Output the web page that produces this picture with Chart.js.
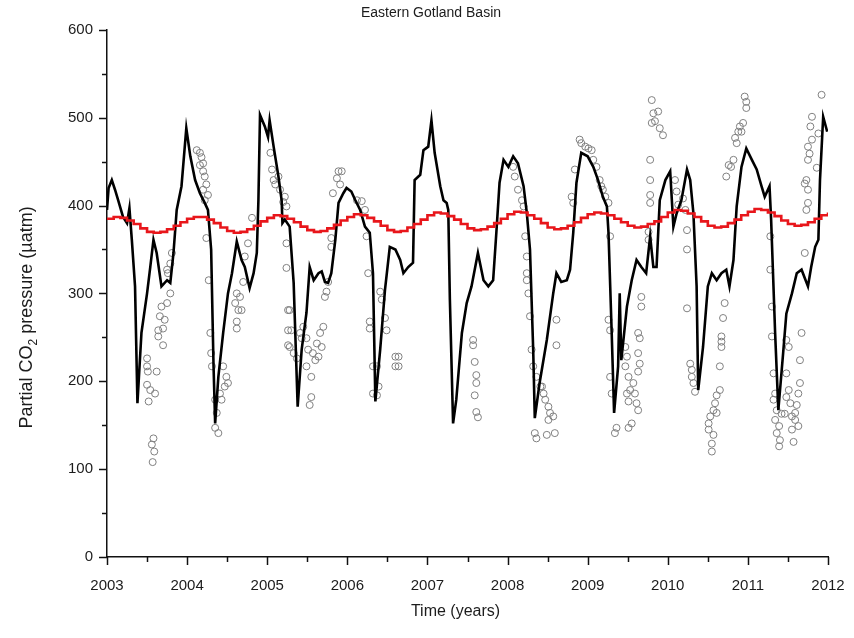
<!DOCTYPE html>
<html>
<head>
<meta charset="utf-8">
<script src="https://cdn.jsdelivr.net/npm/chart.js@4/dist/chart.umd.min.js"></script>
<style>
  html, body { margin: 0; padding: 0; background: #ffffff; }
  #wrap { width: 854px; height: 638px; }
</style>
</head>
<body>
<div id="wrap"><canvas id="c" width="854" height="638"></canvas></div>
<script>
// ---------- DATA ----------
const chartTitle = 'Eastern Gotland Basin';
const xTitle = 'Time (years)';
const yTitleParts = ['Partial CO', '2', ' pressure (\u00b5atm)'];

const yearTicks = [2003, 2004, 2005, 2006, 2007, 2008, 2009, 2010, 2011, 2012];
const valueTicks = [0, 100, 200, 300, 400, 500, 600];

// Modelled pCO2 (black line)
const lineYears = [
  2003.00, 2003.02, 2003.06, 2003.10, 2003.14, 2003.20, 2003.25, 2003.28, 2003.31, 2003.35,
  2003.38, 2003.43, 2003.50, 2003.54, 2003.58, 2003.62, 2003.68, 2003.75, 2003.79, 2003.83,
  2003.87, 2003.93, 2003.99, 2004.04, 2004.10, 2004.16, 2004.22, 2004.26, 2004.30, 2004.33,
  2004.35, 2004.39, 2004.45, 2004.51, 2004.56, 2004.62, 2004.68, 2004.72, 2004.78, 2004.83,
  2004.87, 2004.89, 2004.91, 2004.97, 2005.01, 2005.03, 2005.08, 2005.14, 2005.18, 2005.19,
  2005.22, 2005.28, 2005.33, 2005.38, 2005.43, 2005.49, 2005.53, 2005.58, 2005.64, 2005.68,
  2005.72, 2005.76, 2005.80, 2005.85, 2005.89, 2005.95, 2005.99, 2006.05, 2006.10, 2006.16,
  2006.22, 2006.28, 2006.32, 2006.35, 2006.41, 2006.47, 2006.53, 2006.60, 2006.66, 2006.70,
  2006.76, 2006.82, 2006.84, 2006.91, 2006.95, 2007.01, 2007.05, 2007.09, 2007.16, 2007.20,
  2007.24, 2007.26, 2007.28, 2007.32, 2007.36, 2007.43, 2007.49, 2007.55, 2007.63, 2007.70,
  2007.76, 2007.82, 2007.86, 2007.90, 2007.95, 2008.01, 2008.07, 2008.13, 2008.20, 2008.24,
  2008.28, 2008.32, 2008.34, 2008.40, 2008.49, 2008.57, 2008.61, 2008.67, 2008.74, 2008.78,
  2008.82, 2008.86, 2008.92, 2009.00, 2009.07, 2009.13, 2009.19, 2009.24, 2009.26, 2009.30,
  2009.33, 2009.38, 2009.40, 2009.42, 2009.49, 2009.55, 2009.61, 2009.67, 2009.73, 2009.78,
  2009.82, 2009.86, 2009.90, 2009.97, 2010.03, 2010.07, 2010.11, 2010.17, 2010.24, 2010.28,
  2010.32, 2010.36, 2010.38, 2010.44, 2010.50, 2010.55, 2010.61, 2010.67, 2010.73, 2010.77,
  2010.82, 2010.86, 2010.92, 2010.98, 2011.05, 2011.11, 2011.17, 2011.21, 2011.27, 2011.29,
  2011.34, 2011.38, 2011.44, 2011.48, 2011.55, 2011.61, 2011.67, 2011.75, 2011.79, 2011.84,
  2011.88, 2011.90, 2011.94, 2011.99
];
const lineValues = [
  395, 420, 429, 418, 406, 387, 380, 397, 361, 308,
  175, 255, 300, 330, 361, 346, 308, 315, 312, 346,
  395, 422, 488, 456, 429, 414, 403, 395, 350, 217,
  152, 205, 255, 300, 323, 359, 338, 330, 306, 323,
  346, 406, 503, 490, 478, 497, 467, 433, 406, 380,
  384, 376, 312, 171, 236, 278, 330, 315, 323, 325,
  313, 312, 323, 361, 403, 414, 420, 416, 406, 395,
  376, 369, 323, 177, 236, 304, 353, 350, 338, 323,
  330, 335, 429, 435, 463, 467, 497, 460, 422, 406,
  403, 395, 293, 152, 179, 255, 289, 308, 346, 315,
  308, 315, 369, 426, 452, 444, 456, 448, 422, 392,
  350, 236, 158, 198, 247, 300, 323, 313, 315, 327,
  369, 426, 460, 456, 444, 429, 410, 399, 369, 255,
  164, 217, 300, 224, 285, 315, 338, 330, 323, 365,
  330, 330, 406, 429, 439, 376, 391, 406, 441, 429,
  391, 308, 190, 239, 308, 323, 315, 323, 327, 308,
  338, 399, 444, 465, 452, 441, 422, 410, 422, 384,
  255, 167, 232, 277, 300, 323, 327, 308, 330, 353,
  361, 429, 501, 484
];

// Observations (open circles)
const obsYears = [
  2003.50, 2003.50, 2003.51, 2003.62, 2003.50, 2003.54, 2003.60, 2003.52, 2003.58, 2003.56,
  2003.59, 2003.57, 2003.64, 2003.70, 2003.64, 2003.70, 2003.66, 2003.68, 2003.75, 2003.72,
  2003.79, 2003.75, 2003.79, 2003.81, 2003.76,
  2004.12, 2004.16, 2004.18, 2004.20, 2004.16, 2004.20, 2004.22, 2004.24, 2004.20, 2004.26,
  2004.22, 2004.24, 2004.27, 2004.29, 2004.30, 2004.31, 2004.35, 2004.37, 2004.35, 2004.39,
  2004.45, 2004.49, 2004.51, 2004.47, 2004.41, 2004.43, 2004.62, 2004.66, 2004.60, 2004.64,
  2004.62, 2004.62, 2004.68, 2004.70, 2004.72, 2004.76, 2004.81,
  2005.04, 2005.06, 2005.08, 2005.10, 2005.14, 2005.16, 2005.22, 2005.20, 2005.24, 2005.24,
  2005.24, 2005.26, 2005.26, 2005.26, 2005.28, 2005.30, 2005.28, 2005.33, 2005.37, 2005.41,
  2005.45, 2005.43, 2005.49, 2005.51, 2005.49, 2005.55, 2005.57, 2005.60, 2005.64, 2005.62,
  2005.68, 2005.66, 2005.70, 2005.55, 2005.53, 2005.72, 2005.74, 2005.76, 2005.80, 2005.80,
  2005.82, 2005.87, 2005.89, 2005.93, 2005.91,
  2006.12, 2006.18, 2006.22, 2006.24, 2006.26, 2006.41, 2006.43, 2006.47, 2006.28, 2006.28,
  2006.49, 2006.32, 2006.37, 2006.39, 2006.32, 2006.37, 2006.60, 2006.64, 2006.60, 2006.64,
  2007.57, 2007.57, 2007.59, 2007.61, 2007.61, 2007.59, 2007.61, 2007.63,
  2008.07, 2008.09, 2008.13, 2008.18, 2008.20, 2008.22, 2008.24, 2008.24, 2008.24, 2008.26,
  2008.28, 2008.30, 2008.32, 2008.36, 2008.41, 2008.45, 2008.47, 2008.51, 2008.53, 2008.57,
  2008.51, 2008.34, 2008.49, 2008.59, 2008.36, 2008.43, 2008.61, 2008.61,
  2008.80, 2008.82, 2008.84, 2008.90, 2008.92, 2008.97, 2009.01, 2009.05, 2009.07, 2009.11,
  2009.15, 2009.17, 2009.19, 2009.22, 2009.26, 2009.28, 2009.26, 2009.28, 2009.28, 2009.30,
  2009.34, 2009.36, 2009.47, 2009.49, 2009.47, 2009.51, 2009.49, 2009.53, 2009.51, 2009.57,
  2009.59, 2009.61, 2009.63, 2009.55, 2009.51, 2009.63, 2009.65, 2009.63, 2009.65, 2009.67,
  2009.67, 2009.63,
  2009.80, 2009.82, 2009.88, 2009.84, 2009.80, 2009.90, 2009.94, 2009.78, 2009.78, 2009.78,
  2009.78, 2009.76, 2009.76, 2010.09, 2010.11, 2010.13, 2010.19, 2010.22, 2010.24, 2010.24,
  2010.24, 2010.28, 2010.30, 2010.30, 2010.32, 2010.34, 2010.71, 2010.69, 2010.67, 2010.67,
  2010.67, 2010.65, 2010.65, 2010.61, 2010.59, 2010.57, 2010.61, 2010.53, 2010.51, 2010.51,
  2010.57, 2010.55, 2010.55,
  2010.96, 2010.98, 2010.98, 2010.94, 2010.90, 2010.88, 2010.92, 2010.84, 2010.86, 2010.76,
  2010.79, 2010.73, 2010.82, 2011.28, 2011.28, 2011.30, 2011.30, 2011.32, 2011.34, 2011.32,
  2011.36, 2011.34, 2011.39, 2011.36, 2011.40, 2011.39, 2011.42, 2011.46, 2011.48, 2011.51,
  2011.53, 2011.55, 2011.55, 2011.57, 2011.59, 2011.61, 2011.63, 2011.65, 2011.63, 2011.59,
  2011.48, 2011.51, 2011.48, 2011.65, 2011.67, 2011.71, 2011.73, 2011.75, 2011.75, 2011.73,
  2011.75, 2011.77, 2011.75, 2011.80, 2011.78, 2011.80, 2011.88, 2011.86, 2011.92, 2011.71
];
const obsValues = [
  226, 217, 211, 211, 196, 190, 186, 177, 135, 128,
  120, 108, 251, 241, 258, 260, 274, 285, 289, 270,
  300, 327, 334, 346, 323,
  463, 460, 455, 448, 446, 439, 433, 424, 418, 412,
  406, 363, 315, 255, 232, 217, 179, 164, 147, 141,
  217, 205, 198, 194, 186, 179, 300, 296, 289, 281,
  268, 260, 281, 313, 342, 357, 386,
  460, 441, 429, 424, 433, 418, 410, 404, 399, 357,
  329, 281, 258, 241, 281, 258, 239, 232, 226, 255,
  262, 249, 249, 236, 217, 205, 232, 224, 228, 243,
  239, 255, 262, 182, 173, 296, 302, 313, 353, 363,
  414, 431, 439, 439, 424,
  406, 405, 395, 365, 323, 302, 293, 272, 268, 260,
  258, 217, 217, 194, 186, 184, 228, 228, 217, 217,
  247, 241, 222, 207, 198, 184, 165, 159,
  444, 433, 418, 406, 399, 365, 342, 323, 315, 300,
  274, 236, 217, 205, 194, 186, 179, 171, 164, 160,
  156, 141, 139, 141, 135, 194, 270, 241,
  410, 403, 441, 475, 471, 467, 465, 463, 452, 444,
  429, 422, 418, 410, 403, 365, 270, 258, 205, 186,
  141, 147, 239, 228, 217, 205, 186, 190, 177, 198,
  186, 175, 167, 152, 147, 255, 249, 232, 220, 285,
  296, 211,
  520, 505, 507, 496, 494, 488, 480, 452, 429, 412,
  403, 370, 361, 429, 416, 401, 408, 395, 372, 350,
  283, 220, 213, 205, 198, 188, 289, 272, 251, 245,
  239, 217, 190, 184, 175, 167, 164, 160, 152, 145,
  139, 129, 120,
  524, 518, 511, 494, 490, 484, 484, 477, 471, 446,
  444, 433, 452, 365, 327, 285, 251, 209, 186, 179,
  167, 156, 149, 141, 133, 126, 163, 163, 182, 190,
  175, 160, 145, 131, 164, 173, 186, 198, 149, 156,
  209, 239, 247, 224, 255, 346, 395, 403, 418, 429,
  452, 459, 467, 475, 490, 501, 482, 443, 526, 425
];

// Atmospheric pCO2, monthly steps (red line), one row per year 2003..2011, then Jan 2012
const atmStartYear = 2003;
const atmValues = [
  385, 387, 386, 383, 379, 374, 370, 369, 370, 373, 377, 381,
  385, 387, 387, 384, 380, 375, 371, 369, 370, 373, 377, 382,
  386, 389, 388, 385, 381, 376, 372, 370, 371, 374, 378, 383,
  387, 390, 389, 386, 382, 377, 372, 370, 371, 375, 379, 384,
  389, 392, 391, 388, 384, 379, 374, 372, 373, 376, 380, 385,
  390, 393, 392, 389, 385, 380, 375, 373, 374, 377, 381, 386,
  390, 392, 391, 389, 385, 381, 377, 375, 376, 379, 382, 387,
  392, 395, 394, 391, 387, 382, 377, 375, 376, 380, 384, 389,
  393, 396, 395, 392, 388, 383, 379, 377, 378, 381, 385, 389,
  392
];

// ---------- BUILD ----------
const toXY = (xs, ys) => xs.map((x, i) => ({ x: x, y: ys[i] }));
const atmPoints = atmValues.map((v, i) => ({ x: atmStartYear + i / 12, y: v }));

const FONT = "'Liberation Sans', Arial, Helvetica, sans-serif";
const TEXT = '#1c1c1c';

const axisDecor = {
  id: 'axisDecor',
  afterDraw(chart) {
    const ctx = chart.ctx;
    const xs = chart.scales.x, ys = chart.scales.y;
    const area = chart.chartArea;
    ctx.save();
    ctx.strokeStyle = '#111';
    ctx.lineWidth = 1.5;
    // x ticks: major at years, minor half-way
    for (let i = 0; i < yearTicks.length; i++) {
      const p = Math.round(xs.getPixelForValue(yearTicks[i])) + 0.5;
      ctx.beginPath(); ctx.moveTo(p, area.bottom); ctx.lineTo(p, area.bottom + 8); ctx.stroke();
      if (i < yearTicks.length - 1) {
        const m = Math.round(xs.getPixelForValue((yearTicks[i] + yearTicks[i + 1]) / 2)) + 0.5;
        ctx.beginPath(); ctx.moveTo(m, area.bottom); ctx.lineTo(m, area.bottom + 5); ctx.stroke();
      }
    }
    // y ticks
    for (let i = 0; i < valueTicks.length; i++) {
      const p = Math.round(ys.getPixelForValue(valueTicks[i])) + 0.5;
      ctx.beginPath(); ctx.moveTo(area.left, p); ctx.lineTo(area.left - 8, p); ctx.stroke();
      if (i < valueTicks.length - 1) {
        const m = Math.round(ys.getPixelForValue((valueTicks[i] + valueTicks[i + 1]) / 2)) + 0.5;
        ctx.beginPath(); ctx.moveTo(area.left, m); ctx.lineTo(area.left - 5, m); ctx.stroke();
      }
    }
    ctx.fillStyle = TEXT;
    // x-axis title
    ctx.font = '16px ' + FONT;
    ctx.textAlign = 'center';
    ctx.textBaseline = 'middle';
    ctx.fillText(xTitle, (area.left + area.right) / 2 - 12, 612);
    // y-axis title with subscript
    ctx.textBaseline = 'middle';
    ctx.textAlign = 'left';
    const big = '18px ' + FONT, small = '12px ' + FONT;
    ctx.font = big; const w0 = ctx.measureText(yTitleParts[0]).width;
    ctx.font = small; const w1 = ctx.measureText(yTitleParts[1]).width;
    ctx.font = big; const w2 = ctx.measureText(yTitleParts[2]).width;
    const total = w0 + w1 + w2;
    const cy = (area.top + area.bottom) / 2 + 24;
    ctx.translate(27, cy);
    ctx.rotate(-Math.PI / 2);
    let x0 = -total / 2;
    ctx.font = big; ctx.fillText(yTitleParts[0], x0, 0);
    ctx.font = small; ctx.fillText(yTitleParts[1], x0 + w0, 7);
    ctx.font = big; ctx.fillText(yTitleParts[2], x0 + w0 + w1, 0);
    ctx.restore();
  }
};

new Chart(document.getElementById('c'), {
  type: 'scatter',
  data: {
    datasets: [
      {
        label: 'Atmosphere',
        data: atmPoints,
        showLine: true,
        stepped: true,
        borderColor: '#e8161b',
        borderWidth: 2.6,
        pointRadius: 0,
        order: 0
      },
      {
        label: 'Model',
        data: toXY(lineYears, lineValues),
        showLine: true,
        borderColor: '#000000',
        borderWidth: 2.6,
        pointRadius: 0,
        tension: 0,
        order: 1
      },
      {
        label: 'Observations',
        data: toXY(obsYears, obsValues),
        showLine: false,
        pointRadius: 3.5,
        pointBorderWidth: 1,
        pointBorderColor: '#808080',
        pointBackgroundColor: 'rgba(255,255,255,0)',
        order: 2
      }
    ]
  },
  options: {
    responsive: false,
    devicePixelRatio: 1,
    animation: false,
    layout: { padding: { left: 34, right: 26, top: 0, bottom: 0 } },
    plugins: {
      legend: { display: false },
      tooltip: { enabled: false },
      title: {
        display: true,
        text: chartTitle,
        color: TEXT,
        font: { family: FONT, size: 14, weight: 'normal' },
        padding: { top: 5, bottom: 8 }
      }
    },
    scales: {
      x: {
        type: 'linear',
        min: yearTicks[0],
        max: yearTicks[yearTicks.length - 1],
        afterFit(s) { s.height = 81; s.paddingLeft = 0; s.paddingRight = 0; },
        afterBuildTicks(s) { s.ticks = yearTicks.map(v => ({ value: v })); },
        grid: { display: false, drawTicks: false },
        border: { display: true, color: '#111', width: 1.5 },
        ticks: {
          padding: 20,
          color: TEXT,
          font: { family: FONT, size: 15 },
          maxRotation: 0,
          callback: v => String(v)
        }
      },
      y: {
        type: 'linear',
        min: valueTicks[0],
        max: valueTicks[valueTicks.length - 1],
        afterFit(s) { s.width = 73; },
        afterBuildTicks(s) { s.ticks = valueTicks.map(v => ({ value: v })); },
        grid: { display: false, drawTicks: false },
        border: { display: true, color: '#111', width: 1.5 },
        ticks: {
          padding: 14,
          color: TEXT,
          font: { family: FONT, size: 15 },
          callback: v => String(v)
        }
      }
    }
  },
  plugins: [axisDecor]
});
</script>
</body>
</html>
